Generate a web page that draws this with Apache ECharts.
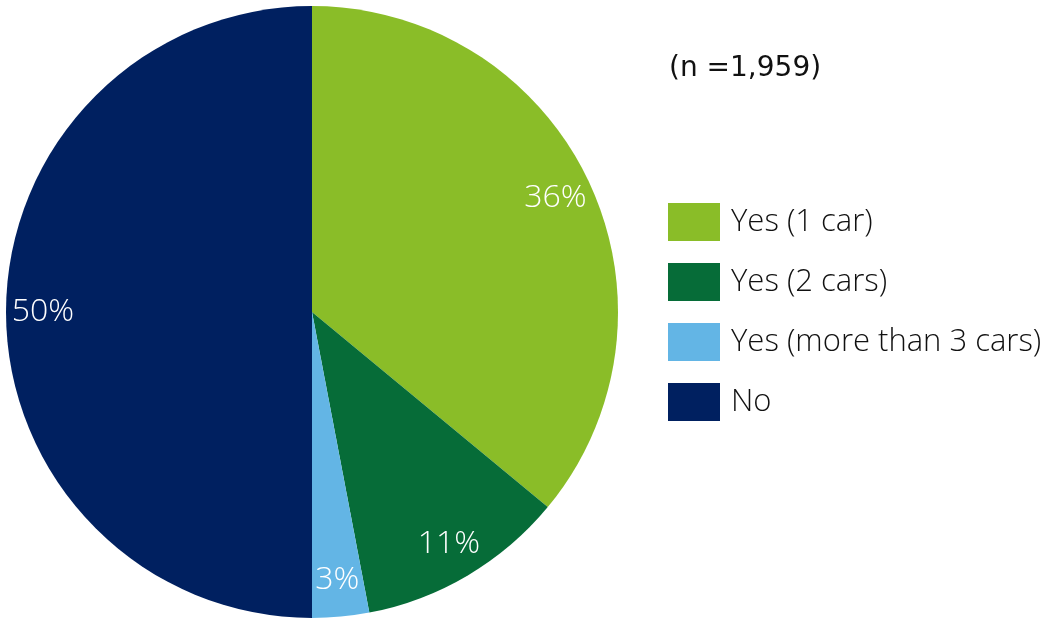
<!DOCTYPE html>
<html>
<head>
<meta charset="utf-8">
<script src="https://cdn.jsdelivr.net/npm/echarts@6/dist/echarts.min.js"></script>
<style>
  html, body { margin: 0; padding: 0; background: #fff; }
  #chart { width: 1063px; height: 621px; }
</style>
</head>
<body>
<div id="chart"></div>
<script>
// Car ownership shares (percent)
const categories = ['Yes (1 car)', 'Yes (2 cars)', 'Yes (more than 3 cars)', 'No'];
const shares = [36, 11, 3, 50];
const colors = ['#8ABD28', '#066C38', '#63B5E5', '#002060'];
const sampleNote = '(n =1,959)';

const pieData = categories.map((name, i) => ({ name, value: shares[i] }));

const chart = echarts.init(document.getElementById('chart'), null, { renderer: 'canvas' });
chart.setOption({
  animation: false,
  color: colors,
  title: {
    text: sampleNote,
    left: 669,
    top: 55,
    padding: 0,
    textStyle: { fontFamily: 'DejaVu Sans', fontSize: 28, fontWeight: 'normal', color: '#111' }
  },
  legend: {
    orient: 'vertical',
    left: 668,
    top: 203,
    padding: 0,
    itemWidth: 52,
    itemHeight: 38,
    itemGap: 22,
    icon: 'rect',
    textStyle: {
      fontFamily: 'Open Sans',
      fontSize: 31,
      fontWeight: 350,
      color: '#111',
      padding: [12, 0, 0, 6]
    },
    data: categories
  },
  series: [
    {
      // filled slices
      type: 'pie',
      center: [312, 312],
      radius: 306,
      startAngle: 90,
      clockwise: true,
      silent: true,
      label: { show: false },
      labelLine: { show: false },
      data: pieData
    },
    {
      // ring carrying the percentage labels near the rim
      type: 'pie',
      center: [312, 312],
      radius: [226, 306],
      startAngle: 90,
      clockwise: true,
      silent: true,
      legendHoverLink: false,
      itemStyle: { color: 'rgba(0,0,0,0)' },
      label: {
        show: true,
        position: 'inside',
        formatter: '{c}%',
        fontFamily: 'Open Sans',
        fontSize: 32,
        fontWeight: 300,
        color: '#fff'
      },
      labelLine: { show: false },
      data: pieData.map(d => ({ name: d.name + ' ', value: d.value }))
    }
  ]
});
</script>
</body>
</html>
